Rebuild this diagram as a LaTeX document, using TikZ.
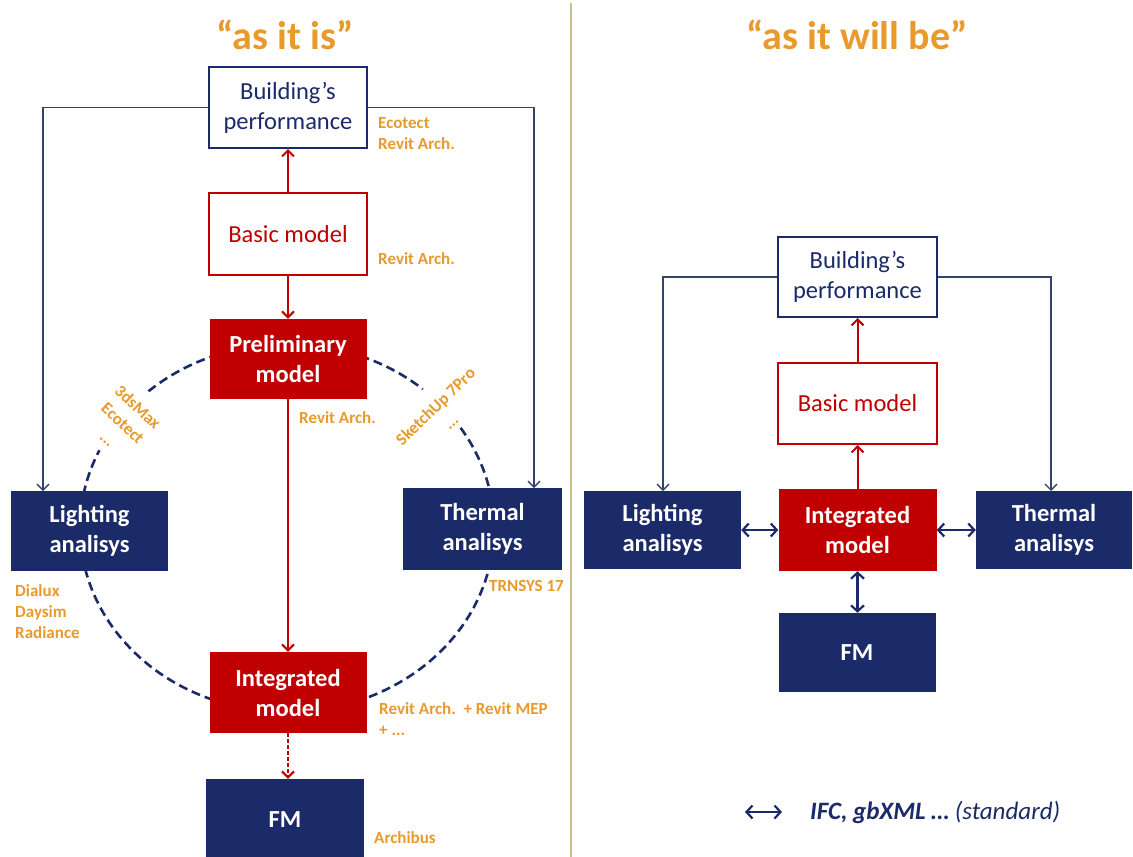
\documentclass[tikz,border=0pt]{standalone}
\usepackage{fontspec}
\setmainfont{Carlito}
\usetikzlibrary{arrows.meta,calc}
\definecolor{navy}{HTML}{1B2A68}
\definecolor{rred}{HTML}{C00000}
\definecolor{orng}{HTML}{E89A2C}
\definecolor{tanline}{HTML}{CDBE8E}
\definecolor{lineblue}{HTML}{34426E}
\begin{document}
\begin{tikzpicture}[x=1pt,y=-1pt,
  box/.style={rectangle, inner sep=0pt, align=center, font=\fontsize{24.5}{30}\selectfont},
  wbox/.style={box, draw=navy, line width=2pt, fill=white, text=navy},
  rbox/.style={box, draw=rred, line width=2pt, fill=white, text=rred},
  fbox/.style={box, fill=rred, text=white, font=\fontsize{24.5}{30}\selectfont\bfseries},
  nbox/.style={box, fill=navy, text=white, font=\fontsize{24.5}{30}\selectfont\bfseries},
  lab/.style={text=orng, font=\fontsize{17}{21}\selectfont\bfseries, inner sep=0pt, align=left, anchor=west},
  rlab/.style={text=orng, font=\fontsize{17}{22}\selectfont\bfseries, inner sep=0pt, align=center},
  ttl/.style={text=orng, font=\fontsize{40}{48}\selectfont\bfseries, inner sep=0pt},
  bl/.style={draw=lineblue, line width=1.3pt, -{Straight Barb[length=6pt,width=12pt]}},
  rl/.style={draw=rred, line width=2pt, -{Straight Barb[length=6pt,width=12pt]}},
  dbl/.style={draw=navy, line width=2.2pt, {Straight Barb[length=6pt,width=13pt]}-{Straight Barb[length=6pt,width=13pt]}},
  ell/.style={draw=navy, line width=2.6pt, dash pattern=on 9pt off 5pt}
]
\useasboundingbox (0,0) rectangle (1133,857);
\fill[white] (0,0) rectangle (1133,857);

% divider
\coordinate (dv1) at (571,3);
\coordinate (dv2) at (571,857);
\draw[tanline, line width=2pt] (dv1) -- (dv2);

% titles
\node[ttl] (t1) at (285,35) {“as it is”};
\node[ttl] (t2) at (857,35) {“as it will be”};

% dashed ellipse (left)
\draw[ell, shift={(287,528)}] (-33:207 and 184) arc[start angle=-33, end angle=205, x radius=207, y radius=184];
\draw[ell, shift={(287,528)}] (228:207 and 184) arc[start angle=228, end angle=311, x radius=207, y radius=184];

% left nodes
\node[wbox, minimum width=158, minimum height=81] (bp1) at (288,107.5) {Building’s\\performance};
\node[rbox, minimum width=158, minimum height=82] (basic1) at (288,234) {Basic model};
\node[fbox, minimum width=157, minimum height=80] (pre1) at (288,359) {Preliminary\\model};
\node[fbox, minimum width=157, minimum height=81] (int1) at (288,692.5) {Integrated\\model};
\node[nbox, minimum width=158, minimum height=82] (fm1) at (285,820) {FM};
\node[nbox, minimum width=157, minimum height=80] (light1) at (89.5,531) {Lighting\\analisys};
\node[nbox, minimum width=159, minimum height=82] (therm1) at (482.5,529) {Thermal\\analisys};

% left labels
\node[lab] (l1) at (378,133.5) {Ecotect\\Revit Arch.};
\node[lab] (l2) at (378,259) {Revit Arch.};
\node[lab] (l3) at (299,418) {Revit Arch.};
\node[lab] (l4) at (489,586) {TRNSYS 17};
\node[lab] (l5) at (15,612) {Dialux\\Daysim\\Radiance};
\node[lab] (l6) at (379,719) {Revit Arch.~~+ Revit MEP\\+ ...};
\node[lab] (l7) at (374,838) {Archibus};
\node[rlab, rotate=-43] (l8) at (123,423) {3dsMax\\Ecotect\\...};
\node[rlab, rotate=44] (l9) at (443,414) {SketchUp 7Pro\\...};

% left connectors
\coordinate (lt1) at (43,491);
\coordinate (rt1) at (534,488);
\draw[bl] (bp1.west) -| (lt1);
\draw[bl] (bp1.east) -| (rt1);
\draw[rl] (basic1.north) -- (bp1.south);
\draw[rl] (basic1.south) -- (basic1.south |- pre1.north);
\draw[rl] (pre1.south) -- (pre1.south |- int1.north);
\draw[rl, dash pattern=on 4pt off 2pt] (int1.south) -- (int1.south |- fm1.north);

% right nodes
\node[wbox, minimum width=159, minimum height=80] (bp2) at (857.5,277) {Building’s\\performance};
\node[rbox, minimum width=159, minimum height=81] (basic2) at (857.5,403.5) {Basic model};
\node[fbox, minimum width=158, minimum height=82] (int2) at (857.5,530) {Integrated\\model};
\node[nbox, minimum width=157, minimum height=78] (light2) at (662.5,530) {Lighting\\analisys};
\node[nbox, minimum width=156, minimum height=78] (therm2) at (1054,530) {Thermal\\analisys};
\node[nbox, minimum width=157, minimum height=79] (fm2) at (857,652.5) {FM};

% right connectors
\coordinate (lt2) at (663,491);
\coordinate (rt2) at (1051,491);
\draw[bl] (bp2.west) -| (lt2);
\draw[bl] (bp2.east) -| (rt2);
\draw[rl] (int2.north) -- (basic2.south);
\draw[rl] (basic2.north) -- (bp2.south);
\draw[dbl] (light2.east) -- (int2.west);
\draw[dbl] (int2.east) -- (therm2.west);
\draw[dbl] (int2.south) -- (int2.south |- fm2.north);

% legend
\coordinate (la) at (745,812);
\coordinate (lb) at (782,812);
\draw[dbl] (la) -- (lb);
\node[anchor=west, inner sep=0pt, text=navy, font=\fontsize{25}{30}\selectfont] (leg) at (810,812) {\textbf{\textit{IFC, gbXML …}} \textit{(standard)}};
\end{tikzpicture}
\end{document}
